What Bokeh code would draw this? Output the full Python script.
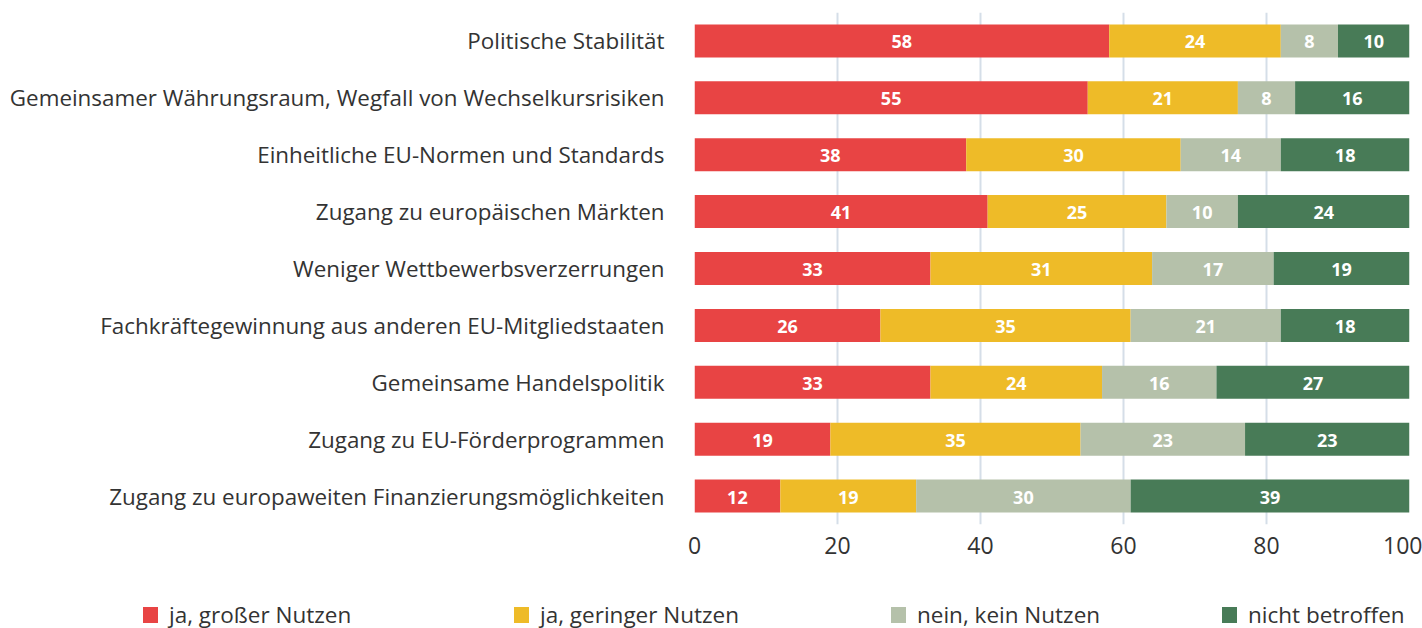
from bokeh.plotting import figure
from bokeh.layouts import column
from bokeh.models import ColumnDataSource, FactorRange, FixedTicker, Div
from bokeh.core.properties import value
from bokeh.embed import file_html
from bokeh.resources import INLINE

categories = [
    "Politische Stabilität",
    "Gemeinsamer Währungsraum, Wegfall von Wechselkursrisiken",
    "Einheitliche EU-Normen und Standards",
    "Zugang zu europäischen Märkten",
    "Weniger Wettbewerbsverzerrungen",
    "Fachkräftegewinnung aus anderen EU-Mitgliedstaaten",
    "Gemeinsame Handelspolitik",
    "Zugang zu EU-Förderprogrammen",
    "Zugang zu europaweiten Finanzierungsmöglichkeiten",
]
gross = [58, 55, 38, 41, 33, 26, 33, 19, 12]
gering = [24, 21, 30, 25, 31, 35, 24, 35, 19]
kein = [8, 8, 14, 10, 17, 21, 16, 23, 30]
nicht = [10, 16, 18, 24, 19, 18, 27, 23, 39]
series_names = ["ja, großer Nutzen", "ja, geringer Nutzen", "nein, kein Nutzen", "nicht betroffen"]
colors = ["#E84444", "#EEBB28", "#B5C1AA", "#487B57"]
x_ticks = [0, 20, 40, 60, 80, 100]

FONT = "Open Sans"
keys = ["gross", "gering", "kein", "nicht"]
data = dict(cat=categories, gross=gross, gering=gering, kein=kein, nicht=nicht)
source = ColumnDataSource(data)

p = figure(
    width=1422, height=564,
    y_range=FactorRange(*reversed(categories), range_padding=0),
    x_range=(0, 100),
    output_backend="svg", toolbar_location=None,
    min_border_left=694, min_border_right=13, min_border_top=12, min_border_bottom=40,
)
p.outline_line_color = None

renderers = p.hbar_stack(keys, y="cat", height=0.58, color=colors, line_color=None, source=source)

# value labels
cols = [gross, gering, kein, nicht]
lx, ly, lt = [], [], []
for i, c in enumerate(categories):
    start = 0
    for col in cols:
        v = col[i]
        lx.append(start + v / 2)
        ly.append(c)
        lt.append(str(v))
        start += v
lsrc = ColumnDataSource(dict(x=lx, y=ly, t=lt))
p.text(x="x", y="y", text="t", source=lsrc, text_color="white", text_align="center",
       text_baseline="middle", text_font=value(FONT), text_font_style="bold",
       text_font_size="18px", y_offset=1)

# axes
p.xaxis.ticker = FixedTicker(ticks=x_ticks)
p.xaxis.axis_line_color = None
p.xaxis.major_tick_line_color = None
p.xaxis.minor_tick_line_color = None
p.xaxis.major_label_text_font = FONT
p.xaxis.major_label_text_font_size = "23px"
p.xaxis.major_label_text_color = "#333333"
p.xaxis.major_label_standoff = 6

p.yaxis.axis_line_color = None
p.yaxis.major_tick_line_color = None
p.yaxis.major_label_text_font = FONT
p.yaxis.major_label_text_font_size = "22.4px"
p.yaxis.major_label_text_color = "#333333"
p.yaxis.major_label_standoff = 24

p.ygrid.grid_line_color = None
p.xgrid.ticker = FixedTicker(ticks=x_ticks)
p.xgrid.grid_line_color = "#D5DEE8"
p.xgrid.grid_line_width = 2

# legend row below the chart, items spread across the width
legend_x = [143, 514, 891, 1222]
parts = []
for name, c, lxp in zip(series_names, colors, legend_x):
    parts.append(
        f'<div style="position:absolute;left:{lxp}px;top:40px;display:flex;align-items:center;'
        f'height:22px;white-space:nowrap;">'
        f'<span style="display:inline-block;width:15px;height:16px;background:{c};margin-right:11px;"></span>'
        f'<span>{name}</span></div>'
    )
html = (
    f'<div style="position:relative;width:1422px;height:64px;font-family:\'{FONT}\';'
    f'font-size:22.5px;line-height:22px;color:#333333;">' + "".join(parts) + "</div>"
)
legend_div = Div(text=html, width=1422, height=64, margin=0)

layout = column(p, legend_div, spacing=0)
open("out.html", "w").write(file_html(layout, INLINE))
